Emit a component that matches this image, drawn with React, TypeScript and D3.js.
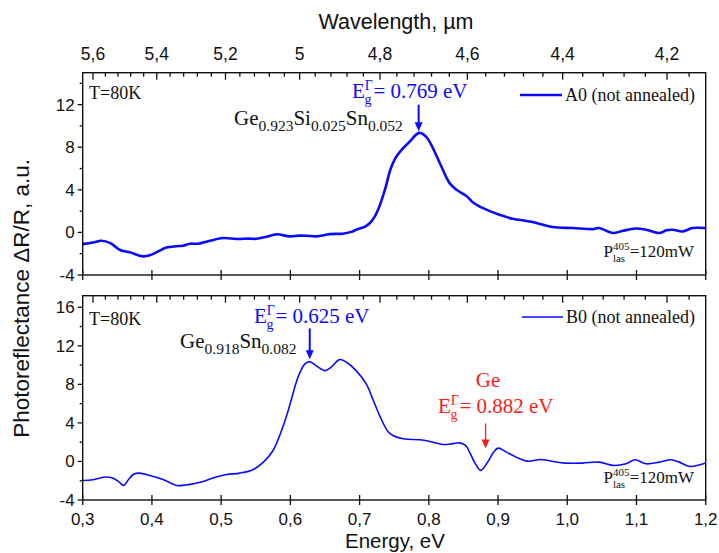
import React from 'react';
import * as d3 from 'd3';

// ---------- data ----------
const energyTicks = [0.3, 0.4, 0.5, 0.6, 0.7, 0.8, 0.9, 1.0, 1.1, 1.2];
const wavelengthTicks = [5.6, 5.4, 5.2, 5.0, 4.8, 4.6, 4.4, 4.2];
const topYTicks = [-4, 0, 4, 8, 12];
const topYMinor = [-2, 2, 6, 10, 14];
const botYTicks = [-4, 0, 4, 8, 12, 16];
const botYMinor = [-2, 2, 6, 10, 14];

const a0Energy = [0.300, 0.315, 0.327, 0.340, 0.354, 0.368, 0.387, 0.397, 0.410, 0.421, 0.435, 0.445, 0.455, 0.467, 0.484, 0.503, 0.522, 0.540, 0.551, 0.566, 0.580, 0.599, 0.612, 0.623, 0.638, 0.657, 0.676, 0.688, 0.695, 0.708, 0.715, 0.722, 0.729, 0.737, 0.745, 0.752, 0.760, 0.772, 0.786, 0.796, 0.806, 0.816, 0.830, 0.840, 0.854, 0.864, 0.873, 0.888, 0.902, 0.921, 0.935, 0.950, 0.979, 1.008, 1.037, 1.046, 1.066, 1.080, 1.099, 1.114, 1.133, 1.143, 1.152, 1.167, 1.181, 1.200];
const a0Value = [-1.1, -0.95, -0.78, -1.0, -1.65, -1.87, -2.25, -2.15, -1.75, -1.42, -1.3, -1.25, -1.06, -1.06, -0.78, -0.53, -0.62, -0.58, -0.6, -0.4, -0.18, -0.37, -0.3, -0.31, -0.37, -0.16, -0.12, 0.05, 0.25, 0.55, 0.88, 1.5, 2.5, 4.1, 6.0, 7.0, 7.7, 8.5, 9.35, 9.0, 7.9, 6.5, 4.63, 4.0, 3.44, 2.8, 2.44, 2.0, 1.66, 1.28, 1.15, 0.97, 0.5, 0.41, 0.31, 0.41, -0.06, 0.15, 0.37, 0.25, -0.06, 0.2, 0.25, 0.09, 0.41, 0.41];

const b0Energy = [0.300, 0.315, 0.332, 0.344, 0.352, 0.359, 0.366, 0.373, 0.382, 0.397, 0.416, 0.436, 0.455, 0.474, 0.493, 0.508, 0.527, 0.546, 0.561, 0.575, 0.589, 0.599, 0.611, 0.621, 0.628, 0.637, 0.650, 0.659, 0.671, 0.681, 0.695, 0.710, 0.720, 0.730, 0.741, 0.748, 0.763, 0.787, 0.800, 0.820, 0.835, 0.844, 0.853, 0.860, 0.866, 0.875, 0.885, 0.893, 0.900, 0.912, 0.926, 0.943, 0.962, 0.979, 0.998, 1.022, 1.046, 1.066, 1.085, 1.098, 1.114, 1.133, 1.150, 1.162, 1.177, 1.200];
const b0Value = [-1.97, -1.9, -1.62, -1.75, -2.1, -2.49, -1.9, -1.35, -1.21, -1.45, -1.87, -2.49, -2.38, -2.07, -1.62, -1.36, -1.21, -0.86, -0.07, 1.14, 3.55, 5.8, 8.74, 10.12, 10.36, 9.95, 9.43, 9.78, 10.57, 10.29, 9.43, 8.0, 6.3, 4.6, 3.1, 2.69, 2.35, 2.25, 2.1, 1.76, 1.85, 1.93, 1.66, 0.8, -0.07, -0.93, -0.07, 0.9, 1.38, 0.97, 0.45, 0.03, 0.21, 0.0, -0.17, -0.17, -0.07, -0.41, -0.24, 0.17, -0.24, -0.07, 0.17, -0.07, -0.52, -0.17];

// ---------- layout ----------
const W = 719, H = 553;
const xL = 82.7, xR = 705.7;
const topT = 72.7, topB = 275;
const botT = 295.7, botB = 500;

const SANS = '"Liberation Sans", Arial, sans-serif';
const SERIF = '"Liberation Serif", "Times New Roman", serif';
const BLUE = '#0a0aff';
const RED = '#ff1a1a';

const fmtComma = (v: number, digits: number) => v.toFixed(digits).replace('.', ',');
const fmtWl = (v: number) => (Math.abs(v - Math.round(v)) < 1e-9 ? String(Math.round(v)) : fmtComma(v, 1));

function Arrow({ x, y1, y2, color, w }: { x: number; y1: number; y2: number; color: string; w: number }) {
  const head = 9;
  return (
    <g>
      <line x1={x} y1={y1} x2={x} y2={y2 - head + 1} stroke={color} strokeWidth={w} />
      <path d={`M${x - 4},${y2 - head} L${x + 4},${y2 - head} L${x},${y2} Z`} fill={color} />
    </g>
  );
}

function EgLabel({ x, y, value, color }: { x: number; y: number; value: string; color: string }) {
  return (
    <text x={x} y={y} fill={color} fontFamily={SERIF} fontSize={21}>
      <tspan>E</tspan>
      <tspan dy={-8} fontSize={14}>Γ</tspan>
      <tspan dx={-8.5} dy={14} fontSize={14}>g</tspan>
      <tspan dx={2} dy={-6}>{`= ${value} eV`}</tspan>
    </text>
  );
}

function Formula({ x, y, parts }: { x: number; y: number; parts: [string, string][] }) {
  return (
    <text x={x} y={y} fill="#111" fontFamily={SERIF} fontSize={21}>
      {parts.map(([el, sub], i) => (
        <React.Fragment key={i}>
          <tspan dy={i === 0 ? 0 : -6}>{el}</tspan>
          <tspan dy={6} fontSize={15.5}>{sub}</tspan>
        </React.Fragment>
      ))}
    </text>
  );
}

function PLas({ x, y }: { x: number; y: number }) {
  return (
    <text x={x} y={y} fill="#111" fontFamily={SERIF} fontSize={17} textAnchor="end">
      <tspan>P</tspan>
      <tspan dy={-7} fontSize={11}>405</tspan>
      <tspan dx={-16.5} dy={12} fontSize={11}>las</tspan>
      <tspan dx={4.5} dy={-5}>=120mW</tspan>
    </text>
  );
}

export default function App() {
  const x = d3.scaleLinear().domain([0.3, 1.2]).range([xL, xR]);
  const yA = d3.scaleLinear().domain([-4, 15]).range([topB, topT]);
  const yB = d3.scaleLinear().domain([-4, 17.2]).range([botB, botT]);
  const wl = d3.scalePow().exponent(-1).domain([5.6, 4.2]).range([93, 667]);

  const wlMinor = d3.range(5.72, 4.0, -0.04).filter((v) => {
    const px = wl(v);
    const isMajor = wavelengthTicks.some((t) => Math.abs(t - v) < 1e-6);
    return px > xL + 2 && px < xR - 2 && !isMajor;
  });

  const lineA = d3
    .line<number>()
    .x((_, i) => x(a0Energy[i]))
    .y((d) => yA(d))
    .curve(d3.curveCatmullRom.alpha(0.5));
  const lineB = d3
    .line<number>()
    .x((_, i) => x(b0Energy[i]))
    .y((d) => yB(d))
    .curve(d3.curveCatmullRom.alpha(0.5));

  const topWlTicks = (t: number) => (
    <g>
      {wavelengthTicks.map((v) => (
        <line key={'M' + v} x1={wl(v)} x2={wl(v)} y1={t} y2={t + 7} stroke="#111" strokeWidth={1.3} />
      ))}
      {wlMinor.map((v) => (
        <line key={'m' + v} x1={wl(v)} x2={wl(v)} y1={t} y2={t + 4} stroke="#111" strokeWidth={1.3} />
      ))}
    </g>
  );

  const leftTicks = (scale: d3.ScaleLinear<number, number>, majors: number[], minors: number[]) => (
    <g>
      {majors.map((v) => (
        <g key={'M' + v}>
          <line x1={xL - 5} x2={xL} y1={scale(v)} y2={scale(v)} stroke="#111" strokeWidth={1.3} />
          <text x={xL - 8} y={scale(v)} dy="0.35em" textAnchor="end" fontFamily={SANS} fontSize={17} fill="#111">
            {v}
          </text>
        </g>
      ))}
      {minors.map((v) => (
        <line key={'m' + v} x1={xL - 3} x2={xL} y1={scale(v)} y2={scale(v)} stroke="#111" strokeWidth={1.3} />
      ))}
    </g>
  );

  const bottomTicks = (b: number, labels: boolean) => (
    <g>
      {energyTicks.map((v) => (
        <g key={v}>
          <line x1={x(v)} x2={x(v)} y1={b - 5} y2={b + 5} stroke="#111" strokeWidth={1.3} />
          {labels && (
            <text x={x(v)} y={b + 25} textAnchor="middle" fontFamily={SANS} fontSize={17} fill="#111">
              {fmtComma(v, 1)}
            </text>
          )}
        </g>
      ))}
    </g>
  );

  return (
    <svg width={W} height={H} style={{ position: 'absolute', left: 0, top: 0, background: '#fff' }}>
      <rect x={0} y={0} width={W} height={H} fill="#fff" />
      {/* titles */}
      <text x={396} y={29} textAnchor="middle" fontFamily={SANS} fontSize={21.5} fill="#111">
        Wavelength, µm
      </text>
      {wavelengthTicks.map((v) => (
        <text key={v} x={wl(v)} y={60} textAnchor="middle" fontFamily={SANS} fontSize={17.5} fill="#111">
          {fmtWl(v)}
        </text>
      ))}
      <text
        transform={`translate(29,${(topT + botB) / 2 + 12}) rotate(-90)`}
        textAnchor="middle"
        fontFamily={SANS}
        fontSize={22.5}
        fill="#111"
      >
        Photoreflectance ΔR/R, a.u.
      </text>
      <text x={395} y={548} textAnchor="middle" fontFamily={SANS} fontSize={20.5} fill="#111">
        Energy, eV
      </text>

      {/* top panel */}
      <path d={lineA(a0Value) || ''} fill="none" stroke={BLUE} strokeWidth={2.6} />
      <rect x={xL} y={topT} width={xR - xL} height={topB - topT} fill="none" stroke="#111" strokeWidth={1.4} />
      {topWlTicks(topT)}
      {leftTicks(yA, topYTicks, topYMinor)}
      {bottomTicks(topB, false)}
      <text x={89} y={99} fontFamily={SERIF} fontSize={18} fill="#111">T=80K</text>
      <EgLabel x={352} y={98} value="0.769" color={BLUE} />
      <Arrow x={x(0.7853)} y1={yA(12.0)} y2={yA(9.5)} color={BLUE} w={2} />
      <Formula x={234} y={125} parts={[['Ge', '0.923'], ['Si', '0.025'], ['Sn', '0.052']]} />
      <line x1={520} x2={562} y1={95} y2={95} stroke={BLUE} strokeWidth={2.6} />
      <text x={565} y={101} fontFamily={SERIF} fontSize={18} fill="#111">A0 (not annealed)</text>
      <PLas x={694} y={257} />

      {/* bottom panel */}
      <path d={lineB(b0Value) || ''} fill="none" stroke={BLUE} strokeWidth={1.6} />
      <rect x={xL} y={botT} width={xR - xL} height={botB - botT} fill="none" stroke="#111" strokeWidth={1.4} />
      {topWlTicks(botT)}
      {leftTicks(yB, botYTicks, botYMinor)}
      {bottomTicks(botB, true)}
      <text x={89} y={325} fontFamily={SERIF} fontSize={18} fill="#111">T=80K</text>
      <EgLabel x={254} y={323} value="0.625" color={BLUE} />
      <Arrow x={x(0.628)} y1={yB(13.8)} y2={yB(10.6)} color={BLUE} w={2} />
      <Formula x={180} y={348} parts={[['Ge', '0.918'], ['Sn', '0.082']]} />
      <line x1={522} x2={563} y1={317} y2={317} stroke={BLUE} strokeWidth={1.6} />
      <text x={566} y={323} fontFamily={SERIF} fontSize={18} fill="#111">B0 (not annealed)</text>
      <text x={488} y={387} textAnchor="middle" fontFamily={SERIF} fontSize={21} fill={RED}>Ge</text>
      <EgLabel x={438} y={413} value="0.882" color={RED} />
      <Arrow x={x(0.882)} y1={yB(3.94)} y2={yB(1.35)} color={RED} w={1.3} />
      <PLas x={694} y={483} />
    </svg>
  );
}
